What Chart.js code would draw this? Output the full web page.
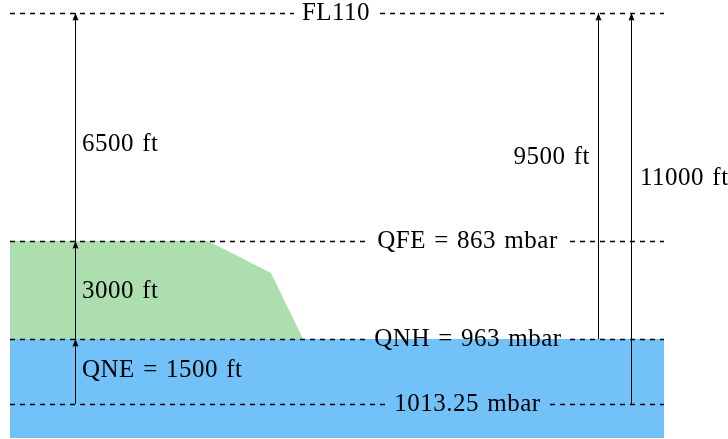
<!DOCTYPE html>
<html>
<head>
<meta charset="utf-8">
<script src="https://cdn.jsdelivr.net/npm/chart.js@4"></script>
<style>
  html, body { margin: 0; padding: 0; background: #fff; }
  #wrap { width: 728px; height: 439px; }
</style>
</head>
<body>
<div id="wrap"><canvas id="altChart"></canvas></div>
<script>
// Diagram units: x across the page, y up from the bottom (not to scale)
const levelNames = ['1013.25 mbar', 'QNH = 963 mbar', 'QFE = 863 mbar', 'FL110'];
const levelY = [35, 100, 198, 426];
const levelLabelX = [467.5, 468, 467.5, 336];

const seaX = [10, 664];
const seaBottom = 1;

const terrainX = [10, 208, 271, 303];
const terrainY = [198, 198, 166, 100];

const arrowX = [75.5, 75.5, 75.5, 598.5, 631.5];
const arrowFrom = [35, 100, 198, 100, 35];
const arrowTo = [100, 198, 426, 426, 426];
const arrowText = ['QNE = 1500 ft', '3000 ft', '6500 ft', '9500 ft', '11000 ft'];
const arrowTextX = [82, 82, 82, 590, 640];
const arrowTextY = [69, 148, 295, 282, 261];
const arrowTextSide = ['left', 'left', 'left', 'right', 'left'];

const FONT = '25px "Liberation Serif", "DejaVu Serif", serif';

function setTextStyle(ctx) {
    ctx.font = FONT;
    ctx.fillStyle = '#000';
    ctx.textBaseline = 'middle';
    if ('letterSpacing' in ctx) ctx.letterSpacing = '0.5px';
    if ('wordSpacing' in ctx) ctx.wordSpacing = '1.5px';
}

// Build the datasets from the arrays above
const datasets = [];

datasets.push({
    label: 'sea',
    data: seaX.map(x => ({ x: x, y: levelY[1] })),
    borderWidth: 0,
    pointRadius: 0,
    backgroundColor: '#73c1f9',
    fill: { value: seaBottom },
    order: 5
});

datasets.push({
    label: 'terrain',
    data: terrainX.map((x, i) => ({ x: x, y: terrainY[i] })),
    borderWidth: 0,
    pointRadius: 0,
    backgroundColor: '#addead',
    fill: { value: levelY[1] },
    order: 4
});

arrowX.forEach((x, i) => {
    datasets.push({
        label: arrowText[i],
        data: [{ x: x, y: arrowFrom[i] }, { x: x, y: arrowTo[i] }],
        borderColor: '#000',
        borderWidth: 1,
        pointRadius: 0,
        fill: false,
        order: 1
    });
});

// Dashed pressure levels, broken where their label sits
const levelPlugin = {
    id: 'levels',
    afterDatasetsDraw(chart) {
        const ctx = chart.ctx;
        const xs = chart.scales.x, ys = chart.scales.y;
        const left = xs.getPixelForValue(seaX[0]);
        const right = xs.getPixelForValue(seaX[1]);

        levelY.forEach((lv, i) => {
            const y = ys.getPixelForValue(lv);
            const ly = Math.round(y) + 0.5;
            const cx = xs.getPixelForValue(levelLabelX[i]);
            ctx.save();
            setTextStyle(ctx);
            const w = ctx.measureText(levelNames[i]).width;
            const pad = 8;

            // clip out the label box
            ctx.beginPath();
            ctx.rect(0, 0, chart.width, chart.height);
            ctx.rect(cx - w / 2 - pad, y - 14, w + 2 * pad, 28);
            ctx.clip('evenodd');

            ctx.strokeStyle = '#000';
            ctx.lineWidth = 1.3;
            ctx.setLineDash([5, 5]);
            ctx.beginPath();
            ctx.moveTo(left, ly);
            ctx.lineTo(right, ly);
            ctx.stroke();
            ctx.restore();

            ctx.save();
            setTextStyle(ctx);
            ctx.textAlign = 'center';
            ctx.fillText(levelNames[i], cx, y);
            ctx.restore();
        });

        // arrow heads and arrow labels
        arrowX.forEach((ax, i) => {
            const x = xs.getPixelForValue(ax);
            const tip = ys.getPixelForValue(arrowTo[i]);
            const dir = arrowTo[i] > arrowFrom[i] ? 1 : -1;
            ctx.save();
            ctx.fillStyle = '#000';
            ctx.beginPath();
            ctx.moveTo(x, tip);
            ctx.lineTo(x - 3, tip + dir * 7.5);
            ctx.quadraticCurveTo(x, tip + dir * 6.5, x + 3, tip + dir * 7.5);
            ctx.closePath();
            ctx.fill();
            ctx.restore();

            ctx.save();
            setTextStyle(ctx);
            ctx.textAlign = arrowTextSide[i];
            ctx.fillText(arrowText[i], xs.getPixelForValue(arrowTextX[i]), ys.getPixelForValue(arrowTextY[i]));
            ctx.restore();
        });
    }
};

new Chart(document.getElementById('altChart'), {
    type: 'scatter',
    data: { datasets: datasets },
    options: {
        responsive: true,
        maintainAspectRatio: false,
        animation: false,
        showLine: true,
        layout: { padding: 0 },
        elements: { line: { tension: 0 } },
        plugins: {
            legend: { display: false },
            tooltip: { enabled: false }
        },
        scales: {
            x: { type: 'linear', min: 0, max: 728, display: false },
            y: { type: 'linear', min: 0, max: 439, display: false }
        }
    },
    plugins: [levelPlugin]
});
</script>
</body>
</html>
